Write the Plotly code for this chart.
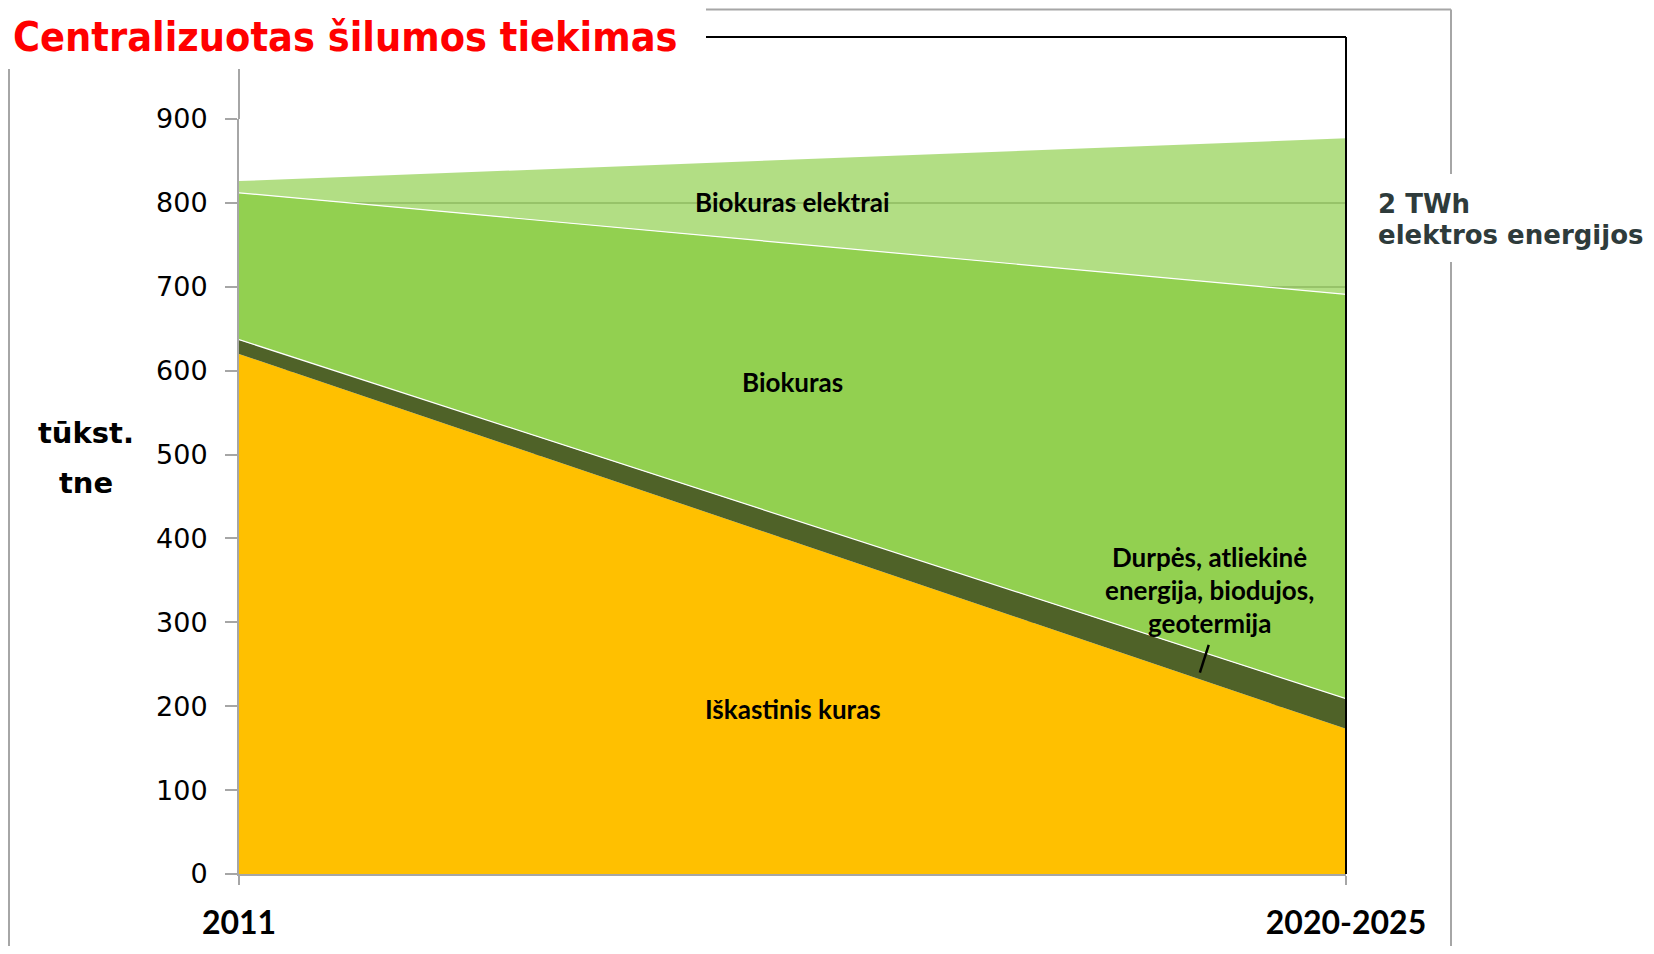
import plotly.graph_objects as go

# ---- data ----
periods = ["2011", "2020-2025"]
fossil = [620, 173]          # Iškastinis kuras
peat_other = [17, 36]        # Durpės, atliekinė energija, biodujos, geotermija
biofuel = [175, 482]         # Biokuras
biofuel_elec = [14, 186]     # Biokuras elektrai
y_ticks = [0, 100, 200, 300, 400, 500, 600, 700, 800, 900]

xpos = [0, 1]

OFF = 8  # page body margin
W, H = 1654 - 2 * OFF, 954 - 2 * OFF
# plot area in reference pixels: x 239..1346, y 119..874
L = 239 - OFF
T = 119 - OFF
R = W - (1346 - OFF)
B = H - (874 - OFF)
PW = W - L - R
PH = H - T - B

fig = go.Figure()
fig.add_trace(go.Scatter(x=xpos, y=fossil, stackgroup="s", mode="lines",
                         line=dict(width=0, color="#FFC000"), fillcolor="#FFC000",
                         name="Iškastinis kuras"))
fig.add_trace(go.Scatter(x=xpos, y=peat_other, stackgroup="s", mode="lines",
                         line=dict(width=1.2, color="white"), fillcolor="#4F6228",
                         name="Durpės"))
fig.add_trace(go.Scatter(x=xpos, y=biofuel, stackgroup="s", mode="lines",
                         line=dict(width=1.2, color="white"), fillcolor="#92D050",
                         name="Biokuras"))
fig.add_trace(go.Scatter(x=xpos, y=biofuel_elec, stackgroup="s", mode="lines",
                         line=dict(width=0, color="rgba(146,208,80,0.7)"),
                         fillcolor="rgba(146,208,80,0.7)",
                         name="Biokuras elektrai"))

fig.update_layout(
    width=W, height=H,
    margin=dict(l=L, r=R, t=T, b=B, autoexpand=False),
    paper_bgcolor="white", plot_bgcolor="white",
    showlegend=False,
    xaxis=dict(range=[0, 1], tickvals=xpos, ticktext=periods,
               showgrid=False, zeroline=False, automargin=False,
               showline=True, linecolor="#A6A6A6", linewidth=2,
               ticks="outside", ticklen=9, tickcolor="#A6A6A6", tickwidth=2,
               ticklabelstandoff=11,
               tickfont=dict(family="Lato", size=32, color="black", weight="bold")),
    yaxis=dict(range=[0, 900], tickvals=y_ticks, automargin=False,
               showgrid=True, gridcolor="#A6A6A6", gridwidth=1.5,
               zeroline=False,
               showline=True, linecolor="#A6A6A6", linewidth=2,
               ticks="outside", ticklen=12, tickcolor="#A6A6A6", tickwidth=2,
               ticklabelstandoff=12,
               tickfont=dict(family="DejaVu Sans", size=27, color="black")),
)

def px2x(px):
    return (px - OFF - L) / PW

def px2y(py):
    return (H - B - (py - OFF)) / PH

gray = "#A6A6A6"
shapes = [
    # left frame line
    dict(type="line", xref="paper", yref="paper", x0=px2x(9), x1=px2x(9),
         y0=px2y(69), y1=px2y(960), line=dict(color=gray, width=2)),
    # y-axis extension above 900
    dict(type="line", xref="paper", yref="paper", x0=0, x1=0,
         y0=1, y1=px2y(69), line=dict(color=gray, width=2)),
    # outer gray bracket
    dict(type="line", xref="paper", yref="paper", x0=px2x(706), x1=px2x(1451),
         y0=px2y(9.5), y1=px2y(9.5), line=dict(color=gray, width=2)),
    dict(type="line", xref="paper", yref="paper", x0=px2x(1451), x1=px2x(1451),
         y0=px2y(9.5), y1=px2y(174), line=dict(color=gray, width=2)),
    dict(type="line", xref="paper", yref="paper", x0=px2x(1451), x1=px2x(1451),
         y0=px2y(262), y1=px2y(960), line=dict(color=gray, width=2)),
    # black bracket
    dict(type="line", xref="paper", yref="paper", x0=px2x(706), x1=1,
         y0=px2y(37), y1=px2y(37), line=dict(color="black", width=2)),
    dict(type="line", xref="paper", yref="paper", x0=1, x1=1,
         y0=px2y(37), y1=0, line=dict(color="black", width=2)),
    # pointer for small band
    dict(type="line", xref="x", yref="y", x0=0.876, y0=273, x1=0.868, y1=240,
         line=dict(color="black", width=2.5)),
]
fig.update_layout(shapes=shapes)

lab_font = dict(family="Lato", size=26, color="black", weight="bold")

def A(x, y, text, font, xref="paper", yref="paper", xanchor="center"):
    return dict(x=x, y=y, xref=xref, yref=yref, text=text, showarrow=False,
                xanchor=xanchor, yanchor="middle", font=font)

ann = [
    A(0.5, 801, "Biokuras elektrai", lab_font, "x", "y"),
    A(0.5, 586, "Biokuras", lab_font, "x", "y"),
    A(0.5, 197, "Iškastinis kuras", lab_font, "x", "y"),
    A(px2x(1209), px2y(557), "Durpės, atliekinė", lab_font),
    A(px2x(1209), px2y(590), "energija, biodujos,", lab_font),
    A(px2x(1209), px2y(623), "geotermija", lab_font),
    # title
    A(px2x(11), px2y(37), "Centralizuotas šilumos tiekimas",
      dict(family="DejaVu Sans Condensed", size=41, color="#FF0000", weight="bold"),
      xanchor="left"),
    # y-axis title
    A(px2x(86), px2y(433), "tūkst.",
      dict(family="DejaVu Sans", size=29, color="black", weight="bold")),
    A(px2x(86), px2y(483), "tne",
      dict(family="DejaVu Sans", size=29, color="black", weight="bold")),
    # right note
    A(px2x(1376), px2y(204), "2 TWh",
      dict(family="DejaVu Sans", size=26, color="#2E3B3B", weight="bold"), xanchor="left"),
    A(px2x(1376), px2y(235), "elektros energijos",
      dict(family="DejaVu Sans", size=26, color="#2E3B3B", weight="bold"), xanchor="left"),
]
fig.update_layout(annotations=ann)

fig.write_html("out.html")
